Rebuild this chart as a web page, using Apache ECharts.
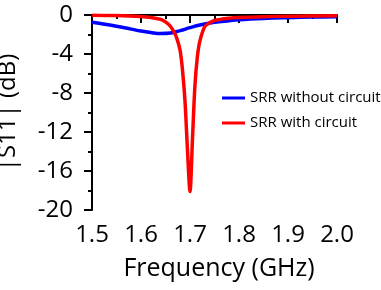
<!DOCTYPE html>
<html><head><meta charset="utf-8">
<script src="https://cdn.jsdelivr.net/npm/echarts@6/dist/echarts.min.js"></script>
<style>html,body{margin:0;padding:0;background:#fff}#c{width:381px;height:290px}</style>
</head><body><div id="c"></div>
<script>
var seriesNames = ['SRR without circuit', 'SRR with circuit'];
var blueFreq = [1.50,1.52,1.55,1.58,1.60,1.62,1.64,1.66,1.68,1.70,1.72,1.75,1.78,1.80,1.85,1.90,1.95,2.00];
var blueS11  = [-0.75,-0.9,-1.15,-1.45,-1.65,-1.8,-1.9,-1.85,-1.6,-1.3,-1.03,-0.75,-0.58,-0.48,-0.35,-0.27,-0.21,-0.17];
var redFreq = [1.50,1.55,1.60,1.62,1.64,1.65,1.66,1.67,1.675,1.68,1.685,1.69,1.695,1.70,1.705,1.71,1.715,1.72,1.73,1.74,1.75,1.78,1.80,1.85,1.90,2.00];
var redS11  = [-0.02,-0.05,-0.15,-0.25,-0.45,-0.7,-1.15,-2.0,-2.7,-3.7,-5.8,-9.0,-14.0,-18.1,-12.8,-7.3,-4.3,-2.7,-1.2,-0.8,-0.55,-0.32,-0.25,-0.17,-0.12,-0.08];
var yTicks = [-20,-16,-12,-8,-4,0];
var xTicks = [1.5,1.6,1.7,1.8,1.9,2.0];

function pairs(xs, ys){ return xs.map(function(x,i){return [x, ys[i]];}); }
var FONT = 'Open Sans';
var chart = echarts.init(document.getElementById('c'), null, {renderer:'canvas'});
chart.setOption({
  animation:false,
  textStyle:{fontFamily:FONT},
  grid:{left:92,right:44,top:15,bottom:80,containLabel:false,outerBoundsMode:'none'},
  xAxis:{type:'value',min:1.5,max:2.0,interval:0.1,
    name:'Frequency (GHz)',nameLocation:'middle',nameGap:46,
    nameTextStyle:{fontFamily:FONT,fontSize:25,color:'#000',padding:[0,0,0,9]},
    axisLine:{lineStyle:{color:'#000',width:2}},
    axisTick:{inside:false,length:8,lineStyle:{color:'#000',width:2}},
    minorTick:{show:true,splitNumber:2,length:4,lineStyle:{color:'#000',width:2}},
    splitLine:{show:false},
    axisLabel:{fontFamily:FONT,fontSize:24,color:'#000',margin:13,
      formatter:function(v){return v.toFixed(1);}}
  },
  yAxis:{type:'value',min:-20,max:0,interval:4,
    name:'|S11| (dB)',nameLocation:'middle',nameGap:72,
    nameTextStyle:{fontFamily:FONT,fontSize:24,color:'#000'},
    axisLine:{lineStyle:{color:'#000',width:2}},
    axisTick:{inside:false,length:8,lineStyle:{color:'#000',width:2}},
    minorTick:{show:true,splitNumber:2,length:4,lineStyle:{color:'#000',width:2}},
    splitLine:{show:false},
    axisLabel:{fontFamily:FONT,fontSize:24,color:'#000',margin:19}
  },
  legend:{orient:'vertical',left:222,top:89,padding:0,itemWidth:23,itemHeight:3,itemGap:7,
    icon:'rect',
    textStyle:{fontFamily:FONT,fontSize:15,color:'#000',lineHeight:18},
    data:seriesNames},
  series:[
    {name:seriesNames[0],type:'line',data:pairs(blueFreq,blueS11),smooth:0.4,showSymbol:false,
      color:'#0000ff',lineStyle:{color:'#0000ff',width:3.5}},
    {name:seriesNames[1],type:'line',data:pairs(redFreq,redS11),smooth:0.3,showSymbol:false,
      color:'#ff0000',lineStyle:{color:'#ff0000',width:3.5}}
  ]
});
</script></body></html>
